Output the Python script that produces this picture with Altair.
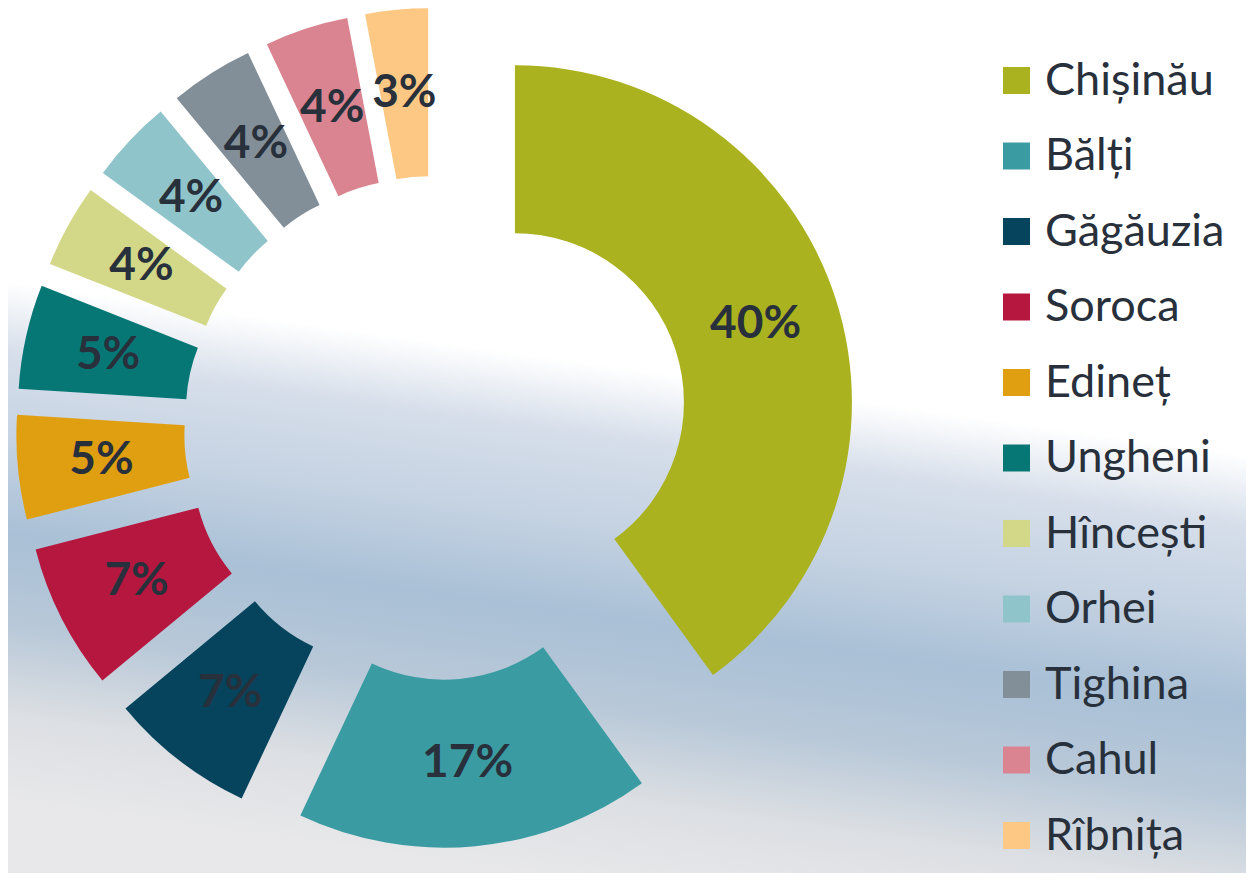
import altair as alt
import pandas as pd

# ---- data ----
regions = ["Chișinău", "Bălți", "Găgăuzia", "Soroca", "Edineț", "Ungheni",
           "Hîncești", "Orhei", "Tighina", "Cahul", "Rîbnița"]
shares = [40, 17, 7, 7, 5, 5, 4, 4, 4, 4, 3]
colors = ["#abb21f", "#3a9ca2", "#05445c", "#b5173f", "#e09f10", "#077775",
          "#d3d888", "#8fc5ca", "#838f98", "#d98490", "#fdc884"]

df = pd.DataFrame({"region": regions, "share": shares, "order": list(range(len(regions)))})

W, H = 1238, 865
CX, CY = 428, 420          # donut centre (px)
R_OUT, R_IN = 337, 169     # radii
EXPLODE = 83               # slice explosion distance
R_LAB = (R_OUT + R_IN) / 2

base = alt.Chart(df).transform_window(
    cum="sum(share)", sort=[alt.SortField("order")], frame=[None, 0]
).transform_joinaggregate(
    total="sum(share)"
).transform_calculate(
    a0="2*PI*(datum.cum - datum.share)/datum.total",
    a1="2*PI*datum.cum/datum.total",
).transform_calculate(
    mid="(datum.a0 + datum.a1)/2"
).transform_calculate(
    cx=f"{CX} + {EXPLODE}*sin(datum.mid)",
    cy=f"{CY} - {EXPLODE}*cos(datum.mid)",
    lx=f"{CX} + {EXPLODE + R_LAB}*sin(datum.mid)",
    ly=f"{CY} - {EXPLODE + R_LAB}*cos(datum.mid)",
    label="format(datum.share, 'd') + '%'",
)

arcs = base.mark_arc(outerRadius=R_OUT, innerRadius=R_IN, stroke=None).encode(
    theta=alt.Theta("a0:Q", scale=None),
    theta2="a1:Q",
    x=alt.X("cx:Q", scale=None, axis=None),
    y=alt.Y("cy:Q", scale=None, axis=None),
    color=alt.Color(
        "region:N",
        scale=alt.Scale(domain=regions, range=colors),
        sort=regions,
        legend=alt.Legend(
            title=None, orient="none", legendX=986, legendY=50,
            symbolType="square", symbolSize=729, symbolStrokeWidth=0,
            labelFont="Lato", labelFontSize=45, labelColor="#28303b",
            labelOffset=6, rowPadding=29.5, padding=0, labelLimit=400,
        ),
    ),
)

labels = base.mark_text(
    font="Lato", fontWeight="bold", fontSize=46, color="#28303b",
    align="center", baseline="middle",
).encode(
    x=alt.X("lx:Q", scale=None, axis=None),
    y=alt.Y("ly:Q", scale=None, axis=None),
    text="label:N",
)

bg = alt.Chart(alt.Data(values=[{}])).mark_rect(
    color=alt.LinearGradient(
        gradient="linear", x1=0.6, y1=0, x2=0.4, y2=1,
        stops=[
            alt.GradientStop(color="#ffffff", offset=0),
            alt.GradientStop(color="#ffffff", offset=0.42),
            alt.GradientStop(color="#d6deea", offset=0.50),
            alt.GradientStop(color="#c4d2e2", offset=0.60),
            alt.GradientStop(color="#a9c0d6", offset=0.70),
            alt.GradientStop(color="#b8c8d8", offset=0.80),
            alt.GradientStop(color="#dcdfe3", offset=0.90),
            alt.GradientStop(color="#e8e8ea", offset=1.0),
        ],
    )
).encode(x=alt.value(0), x2=alt.value(W), y=alt.value(0), y2=alt.value(H))

chart = alt.layer(bg, arcs, labels).properties(
    width=W, height=H, padding=0,
    autosize=alt.AutoSizeParams(type="none"),
).configure_view(stroke=None)

chart.save("out.html", embed_options={"renderer": "svg", "actions": False})
